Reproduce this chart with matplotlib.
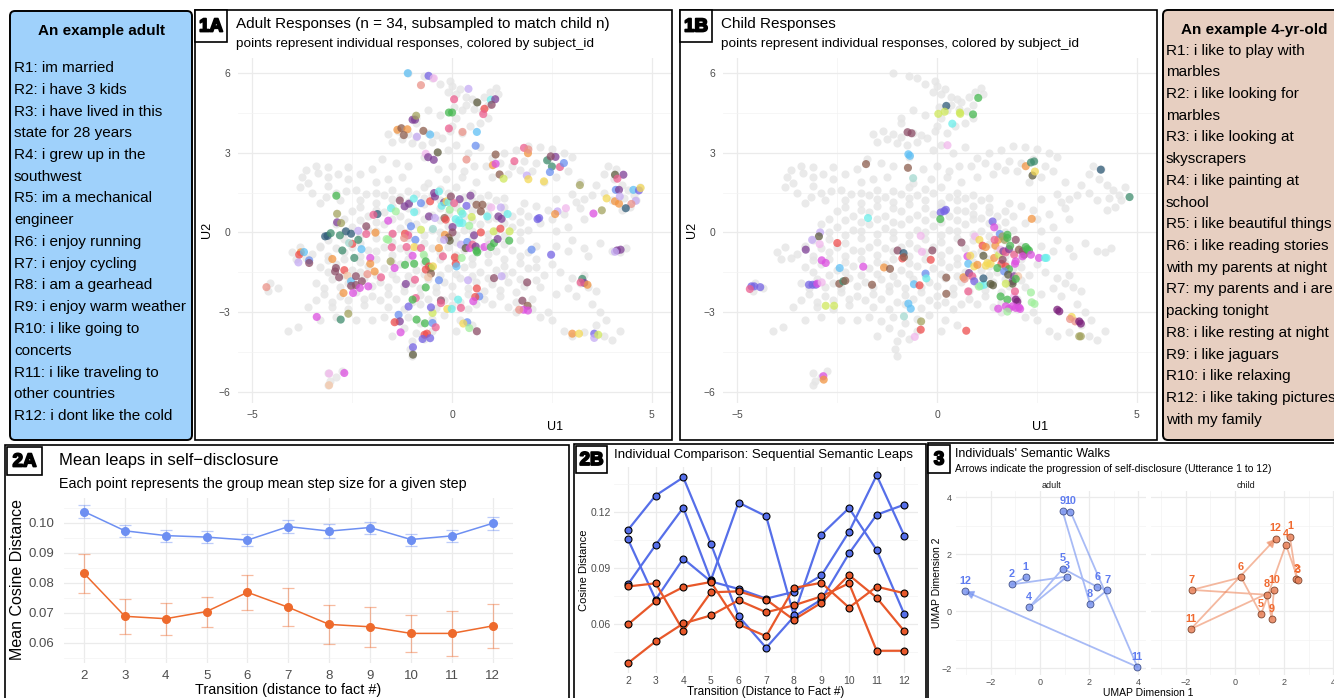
import matplotlib
matplotlib.use("Agg")
import matplotlib.pyplot as plt
import matplotlib.patheffects as pe
from matplotlib.patches import FancyBboxPatch
from matplotlib.transforms import IdentityTransform

plt.rcParams['font.family'] = ['Liberation Sans', 'DejaVu Sans']

# ---------------- data ----------------
adult_lines = ["R1: im married", "R2: i have 3 kids", "R3: i have lived in this",
               "state for 28 years", "R4: i grew up in the", "southwest",
               "R5: im a mechanical", "engineer", "R6: i enjoy running",
               "R7: i enjoy cycling", "R8: i am a gearhead", "R9: i enjoy warm weather",
               "R10: i like going to", "concerts", "R11: i like traveling to",
               "other countries", "R12: i dont like the cold"]
child_lines = ["R1: i like to play with", "marbles", "R2: i like looking for", "marbles",
               "R3: i like looking at", "skyscrapers", "R4: i like painting at", "school",
               "R5: i like beautiful things", "R6: i like reading stories",
               "with my parents at night", "R7: my parents and i are", "packing tonight",
               "R8: i like resting at night", "R9: i like jaguars", "R10: i like relaxing",
               "R12: i like taking pictures", "with my family"]

# full UMAP cloud (grey background, same in 1A and 1B)
background_pts = [
    (-1.1, 6.0), (-0.7, 5.9), (-0.5, 5.8), (-0.3, 5.6), (-0.05, 5.7), (0.0, 5.5), (-0.1, 5.3), (0.1, 5.2),
    (0.2, 5.4), (0.35, 5.1), (0.5, 5.0), (0.6, 4.9), (0.8, 5.1), (0.95, 5.3), (1.1, 5.45), (1.15, 5.2),
    (0.9, 4.8), (0.75, 4.55), (0.55, 4.65), (0.35, 4.8), (0.25, 4.6), (0.05, 4.7), (0.1, 4.3), (0.0, 4.0),
    (-0.05, 3.8), (0.25, 3.75), (0.45, 4.0), (0.7, 4.1), (0.9, 4.3), (-0.3, 4.4), (-0.6, 4.6), (-0.9, 4.3),
    (-0.9, 4.1), (-1.35, 3.8), (-1.6, 3.7), (-1.1, 3.7), (-0.9, 3.6), (-0.6, 3.75), (-0.4, 3.65),
    (-1.25, 3.5), (-1.0, 3.35), (-0.5, 3.4), (-0.25, 3.55), (-1.5, 3.4), (-0.75, 3.3),
    (-0.1, 3.1), (0.1, 3.3), (0.4, 3.0), (0.7, 3.2), (-1.75, 2.75), (-1.4, 2.6), (-1.1, 2.5), (-0.7, 2.85),
    (-0.35, 2.4), (0.0, 2.5), (0.3, 2.3), (0.55, 2.5), (0.85, 2.5), (-1.25, 2.1), (-0.6, 1.85),
    (-0.15, 2.0), (0.25, 2.1), (-2.0, 2.4), (-2.3, 2.2), (-2.6, 2.45), (-1.9, 1.9), (-1.6, 2.0),
    (0.6, 1.9), (1.0, 2.1),
    (-3.75, 2.1), (-3.6, 1.85), (-3.35, 2.25), (-3.1, 2.1), (-3.1, 1.75), (-3.5, 1.5), (-3.15, 1.35),
    (-2.9, 1.5), (-2.65, 1.55), (-2.4, 1.6), (-2.15, 1.45), (-3.65, 2.35), (-3.4, 2.5), (-3.1, 2.45),
    (-2.85, 2.2), (-2.6, 2.0), (-3.8, 1.7), (-3.3, 1.1), (-2.8, 1.2),
    (1.0, 2.8), (1.3, 3.0), (1.6, 3.1), (1.9, 3.25), (2.2, 3.2), (2.5, 3.15), (2.8, 3.0), (3.0, 2.85),
    (1.2, 2.6), (1.5, 2.5), (1.8, 2.7), (2.1, 2.6), (2.4, 2.75), (2.7, 2.5), (1.4, 2.2), (1.7, 2.35),
    (2.0, 2.3), (2.9, 2.3), (2.6, 2.1), (3.2, 1.9), (2.3, 1.9),
    (3.6, 1.8), (3.8, 2.2), (3.9, 2.5), (4.05, 2.0), (4.1, 2.4), (4.25, 1.8), (4.4, 1.6), (4.55, 1.4),
    (4.7, 1.7), (4.6, 1.2), (4.45, 0.95), (4.25, 0.85), (4.0, 1.2), (3.8, 1.5), (3.5, 1.4), (3.3, 1.25),
    (3.1, 1.15), (4.3, 1.3),
    (1.8, 1.1), (2.1, 1.0), (2.4, 0.85), (2.8, 0.7), (3.2, 0.9), (2.6, 1.25), (3.0, 1.45), (2.2, 0.35),
    (2.6, 0.05), (3.0, -0.3), (1.9, 0.6), (2.5, 0.5), (3.3, 0.5), (2.9, 0.2),
    (4.2, -0.75), (4.35, -0.6), (3.7, -0.4), (3.4, -0.9), (2.9, -0.7), (2.6, -0.5), (3.3, -0.6), (4.0, -0.7),
    (-1.9, 1.5), (-1.5, 1.6), (-1.1, 1.55), (-0.7, 1.7), (-0.3, 1.65), (0.1, 1.7), (0.5, 1.5), (0.9, 1.4),
    (1.3, 1.3), (-2.3, 1.2), (-1.9, 1.1), (-1.5, 1.25), (-1.1, 1.15), (-0.7, 1.3), (-0.3, 1.2), (0.1, 1.1),
    (0.5, 1.2), (0.9, 1.0), (1.3, 0.95), (1.7, 0.8),
    (-2.5, 0.8), (-2.1, 0.6), (-1.7, 0.75), (-1.3, 0.6), (-0.9, 0.8), (-0.5, 0.65), (-0.1, 0.7), (0.3, 0.6),
    (0.7, 0.8), (1.1, 0.55), (1.5, 0.6),
    (-2.9, 0.3), (-2.5, 0.2), (-2.1, 0.1), (-1.7, 0.3), (-1.3, 0.15), (-0.9, 0.3), (-0.5, 0.1), (-0.1, 0.25),
    (0.3, 0.1), (0.7, 0.3), (1.1, 0.05), (1.5, 0.2), (1.9, 0.1),
    (-3.1, -0.3), (-2.7, -0.25), (-2.3, -0.4), (-1.9, -0.2), (-1.5, -0.35), (-1.1, -0.2), (-0.7, -0.4),
    (-0.3, -0.25), (0.1, -0.35), (0.5, -0.2), (0.9, -0.3), (1.3, -0.45), (1.7, -0.3), (2.1, -0.5),
    (-3.5, -0.8), (-3.1, -0.9), (-2.7, -0.75), (-2.3, -0.9), (-1.9, -0.7), (-1.5, -0.85), (-1.1, -0.7),
    (-0.7, -0.9), (-0.3, -0.75), (0.1, -0.85), (0.5, -0.95), (0.9, -0.8), (1.3, -1.0), (1.7, -0.9),
    (2.1, -1.0), (2.5, -1.2),
    (-3.9, -1.0), (-3.3, -1.3), (-2.9, -1.2), (-2.5, -1.4), (-2.1, -1.25), (-1.7, -1.35), (-1.3, -1.2),
    (-0.9, -1.4), (-0.5, -1.25), (-0.1, -1.35), (0.3, -1.3), (0.7, -1.5), (1.1, -1.4), (1.5, -1.5),
    (1.9, -1.35), (2.3, -1.6),
    (-3.4, -1.9), (-3.0, -1.75), (-2.6, -1.9), (-2.2, -1.7), (-1.8, -1.85), (-1.4, -1.75), (-1.0, -1.9),
    (-0.6, -1.75), (-0.2, -1.85), (0.2, -1.7), (0.6, -1.85), (1.0, -1.95), (1.4, -1.85), (1.8, -2.0),
    (2.2, -2.05),
    (-3.2, -2.3), (-2.8, -2.4), (-2.4, -2.25), (-2.0, -2.4), (-1.6, -2.3), (-1.2, -2.2), (-0.8, -2.35),
    (-0.4, -2.25), (0.0, -2.4), (0.4, -2.3), (0.8, -2.5), (1.2, -2.4), (1.6, -2.6), (2.0, -2.5),
    (-3.6, -2.8), (-3.0, -2.8), (-2.6, -2.9), (-2.2, -2.75), (-1.6, -2.8), (-1.2, -2.9), (-0.8, -2.7),
    (-0.4, -2.85), (0.0, -2.75), (0.4, -2.9), (1.6, -3.0), (2.0, -2.9), (2.4, -3.0),
    (-1.7, -3.2), (-1.4, -3.35), (-1.1, -3.2), (-0.8, -3.4), (-0.5, -3.25), (-0.2, -3.1), (0.2, -3.3),
    (0.5, -3.5), (-1.2, -3.6), (-0.9, -3.8), (-1.0, -4.1), (-1.05, -4.4), (-1.0, -4.65), (-0.7, -4.0),
    (-0.5, -3.7), (-1.5, -3.9), (-2.0, -3.3), (-2.4, -3.3), (-2.9, -3.2), (-3.3, -3.3), (0.1, -3.7),
    (-4.1, -3.7), (-3.85, -3.55), (-4.55, -1.9), (-4.35, -2.1), (-4.6, -2.2), (-3.8, -0.55),
    (-3.65, -0.95), (-4.0, -0.75), (-3.3, -0.55),
    (-3.1, -5.3), (-3.05, -5.6), (-2.9, -5.45), (-3.1, -5.75), (-2.75, -5.2),
    (2.7, -1.5), (3.0, -1.7), (3.2, -1.9), (3.4, -2.05), (3.3, -1.6), (3.6, -2.2), (3.1, -2.4),
    (3.5, -2.7), (3.7, -3.0), (3.85, -3.3), (3.6, -3.5), (3.3, -3.75), (3.8, -3.9), (4.2, -3.7),
    (4.0, -4.05), (2.8, -3.7), (3.0, -3.9), (2.2, -3.2), (2.5, -3.3), (2.6, -2.3), (2.9, -2.1),
    (-1.7, 1.4), (-1.3, 1.35), (-0.9, 1.45), (-0.5, 1.4), (-0.1, 1.5), (0.3, 1.35), (0.7, 1.3), (1.1, 1.2),
    (-2.3, 0.95), (-1.9, 0.85), (-1.5, 1.0), (-1.1, 0.9), (-0.7, 1.05), (-0.3, 0.9), (0.1, 0.95),
    (0.5, 0.85), (0.9, 0.7), (1.3, 0.75),
    (-2.7, 0.5), (-2.3, 0.45), (-1.9, 0.4), (-1.5, 0.5), (-1.1, 0.4), (-0.7, 0.5), (-0.3, 0.45), (0.1, 0.4),
    (0.5, 0.45), (0.9, 0.5), (1.3, 0.35), (1.7, 0.4),
    (-2.7, 0.0), (-2.3, -0.1), (-1.9, 0.05), (-1.5, -0.05), (-1.1, 0.0), (-0.7, -0.1), (-0.3, 0.0),
    (0.1, -0.1), (0.5, 0.05), (0.9, -0.05), (1.3, -0.15), (1.7, 0.0),
    (-3.3, -0.5), (-2.9, -0.6), (-2.5, -0.55), (-2.1, -0.65), (-1.7, -0.55), (-1.3, -0.6), (-0.9, -0.55),
    (-0.5, -0.6), (-0.1, -0.55), (0.3, -0.65), (0.7, -0.6), (1.1, -0.7), (1.5, -0.65), (1.9, -0.75),
    (-3.1, -1.05), (-2.7, -1.0), (-2.3, -1.1), (-1.9, -1.0), (-1.5, -1.1), (-1.1, -1.0), (-0.7, -1.15),
    (-0.3, -1.0), (0.1, -1.1), (0.5, -1.2), (0.9, -1.1), (1.3, -1.25), (1.7, -1.15), (2.1, -1.3),
    (-3.1, -1.5), (-2.7, -1.6), (-2.3, -1.5), (-1.9, -1.6), (-1.5, -1.55), (-1.1, -1.65), (-0.7, -1.55),
    (-0.3, -1.6), (0.1, -1.55), (0.5, -1.65), (0.9, -1.7), (1.3, -1.6), (1.7, -1.75), (2.1, -1.8),
    (-3.2, -2.1), (-2.8, -2.05), (-2.4, -2.1), (-2.0, -2.0), (-1.6, -2.05), (-1.2, -2.0), (-0.8, -2.1),
    (-0.4, -2.05), (0.0, -2.0), (0.4, -2.1), (0.8, -2.2), (1.2, -2.15), (1.6, -2.25),
    (-3.4, -2.55), (-3.0, -2.6), (-2.6, -2.55), (-2.2, -2.5), (-1.8, -2.55), (-1.4, -2.5), (-1.0, -2.6),
    (-0.6, -2.5), (-0.2, -2.55), (0.2, -2.6), (0.6, -2.7), (1.0, -2.7), (1.4, -2.8),
]

# coloured responses: (U1, U2, subject colour group)
adult_pts = [
    (-1.11, 5.99, 'sk'), (-0.59, 5.89, 'v'), (-0.46, 5.80, 'pl'), (-0.78, 5.54, 'sa'), (0.41, 5.40, 'la'),
    (0.05, 5.01, 'pk'), (0.63, 4.89, 'od'), (0.97, 4.99, 'c'), (1.08, 5.01, 'pu'), (0.99, 4.80, 'bp'),
    (0.81, 4.65, 'r'), (0.78, 4.45, 'pk'), (-0.08, 4.51, 'g'), (0.0, 4.51, 'g'), (-0.99, 4.24, 'pu'),
    (-0.93, 4.24, 'pu'), (-0.90, 4.39, 'ol'),
    (-1.37, 3.86, 'o'), (-1.27, 3.92, 'br'), (-1.12, 3.88, 'o'), (-1.21, 3.66, 'br'), (-0.88, 3.60, 'la'),
    (-0.72, 3.82, 'br'), (-0.55, 3.68, 'sk'), (-0.08, 3.91, 'pk'), (0.26, 3.78, 'sa'), (0.62, 3.78, 'sk'),
    (0.59, 3.26, 'b'), (-0.36, 3.01, 'od'), (-0.66, 2.96, 'pl'), (-0.60, 2.83, 'pu'), (-0.46, 2.73, 'pu'),
    (0.36, 2.74, 'sa'), (1.09, 2.93, 'br'), (1.02, 2.53, 'o'), (1.09, 2.58, 'm'), (1.19, 2.18, 'br'),
    (1.29, 2.02, 'yg'), (1.56, 2.68, 'pk'), (1.80, 3.18, 'pk'), (1.90, 2.98, 'o'), (1.91, 3.12, 'sa'),
    (1.87, 2.14, 'la'), (1.91, 2.0, 'y'), (2.30, 1.92, 'y'),
    (2.38, 2.71, 't'), (2.59, 2.84, 'pu'), (2.47, 2.86, 'bp'), (2.50, 2.48, 't'), (2.45, 2.27, 'b'),
    (2.70, 2.46, 'pk'), (2.80, 2.61, 'b'), (3.20, 1.78, 'ol'), (4.08, 2.17, 'od'), (4.29, 2.17, 'pu'),
    (4.14, 2.02, 'pk'), (4.10, 1.60, 'b'), (4.18, 1.60, 'pu'), (4.54, 1.60, 'sk'), (4.68, 1.58, 'v'),
    (4.72, 1.67, 'y'), (4.60, 1.19, 'la'), (3.87, 1.28, 'y'), (4.08, 1.17, 'o'), (4.18, 1.08, 'o'),
    (4.20, 1.35, 'la'), (4.49, 1.07, 'sa'), (4.35, 0.91, 'td'), (3.75, 0.83, 'ol'), (3.54, 0.71, 'm'),
    (2.85, 0.91, 'pl'), (2.64, 0.79, 'la'), (2.58, 0.69, 'o'), (2.18, 0.54, 'v'), (2.14, 0.50, 'v'),
    (1.99, -0.65, 'b'), (2.48, -0.84, 'v'), (4.13, -0.68, 'pu'), (4.22, -0.65, 'pu'), (4.08, -0.73, 'la'),
    (3.26, -1.75, 't'), (3.31, -1.90, 'pu'), (3.39, -1.97, 'o'), (3.22, -1.88, 'pk'),
    (1.88, -1.88, 'bp'), (1.76, -2.57, 'bp'), (1.89, -2.76, 'br'), (1.79, -2.91, 'm'), (1.90, -2.94, 'm'),
    (1.68, -2.91, 'sa'), (3.01, -3.81, 'o'), (3.18, -3.81, 'y'), (3.56, -3.81, 'v'), (3.56, -3.97, 'la'),
    (3.66, -3.85, 'yg'), (1.05, -1.72, 'bp'), (1.24, -1.65, 'la'), (0.62, -2.11, 'r'), (0.68, -2.41, 'b'),
    (0.58, -2.43, 'r'), (0.53, -2.59, 'm'), (0.40, -1.80, 'la'), (0.15, -2.53, 'c'), (0.22, -2.84, 'pk'),
    (-0.12, -2.88, 'y'), (-0.01, -2.88, 'c'), (0.38, -3.38, 'b'), (0.28, -3.43, 'y'), (0.43, -3.60, 'lg'),
    (0.62, -3.72, 'bp'), (-0.49, -3.03, 'yg'), (-0.53, -2.82, 'v'), (-0.28, -2.56, 'bp'), (-0.28, -2.66, 'pk'),
    (-0.33, -1.80, 'b'), (-0.66, -2.07, 'g'), (-0.91, -2.47, 'pk'), (-0.99, -2.53, 'g'), (-1.09, -2.79, 'v'),
    (-0.93, -1.78, 'pk'), (-1.16, -1.94, 'pu'), (-1.34, -3.10, 'b'), (-1.31, -3.35, 'pu'), (-1.44, -3.38, 'r'),
    (-0.89, -3.28, 'g'), (-0.68, -3.42, 'g'), (-0.49, -3.41, 'b'), (-0.41, -3.57, 'pk'), (-1.29, -3.76, 'm'),
    (-0.69, -3.85, 'r'), (-0.63, -3.81, 'r'), (-0.74, -4.01, 'v'), (-0.55, -3.98, 'v'), (-0.98, -4.32, 'v'),
    (-0.98, -4.60, 'od'), (-3.39, -3.18, 'm'), (-2.79, -3.28, 't'), (-2.60, -3.06, 'ol'),
    (-3.08, -5.31, 'pl'), (-2.70, -5.29, 'm'), (-3.08, -5.75, 'pe'), (-4.65, -2.06, 'sa'),
    (-3.79, -0.75, 'o'), (-3.83, -0.84, 'r'), (-3.71, -0.74, 'sk'), (-3.85, -1.13, 'la'), (-3.58, -1.05, 'b'),
    (-3.58, -1.15, 'bp'), (-3.18, -0.15, 'td'), (-3.12, -0.13, 'td'), (-3.04, -0.03, 't'), (-3.00, -1.0, 'o'),
    (-2.88, 0.38, 'pu'), (-2.78, 0.35, 'ol'), (-2.88, 0.70, 'ol'), (-2.90, 1.38, 'g'),
    (-2.66, 0.04, 'td'), (-2.53, -0.05, 'td'), (-2.81, -0.11, 't'), (-2.75, -0.68, 't'), (-2.50, -0.43, 'r'),
    (-2.58, -0.40, 'tl'), (-2.35, -0.28, 't'), (-2.35, 0.06, 'la'), (-2.27, -0.63, 'sk'), (-2.15, 0.23, 'bp'),
    (-2.15, -0.06, 'pk'), (-1.92, -0.01, 'o'), (-1.87, 0.69, 'td'), (-1.97, 0.66, 'pk'), (-2.45, -0.96, 't'),
    (-2.91, -1.34, 'bp'), (-2.93, -1.47, 'bp'), (-2.83, -1.69, 'bp'), (-2.70, -1.42, 'r'), (-2.62, -1.63, 'pe'),
    (-2.53, -1.84, 'sk'), (-2.41, -1.65, 'bp'), (-2.53, -2.01, 'bp'), (-2.41, -1.98, 'bp'), (-2.26, -1.84, 'bp'),
    (-2.48, -2.28, 'm'), (-2.72, -2.28, 'o'), (-2.31, -2.09, 'm'), (-2.10, -2.03, 'm'),
    (-2.05, -0.96, 'm'), (-2.05, -1.18, 'o'), (-2.12, -1.57, 'sa'), (-1.94, -1.47, 'o'), (-1.78, -1.69, 'pk'),
    (-1.60, 0.44, 'm'), (-1.53, 0.91, 'c'), (-1.41, 0.79, 'lg'), (-1.49, -0.05, 'pk'), (-1.51, -0.56, 'pk'),
    (-1.64, -0.25, 'lg'), (-1.60, -0.28, 'lg'), (-1.54, -1.09, 'ol'), (-1.44, -1.34, 'm'),
    (-1.31, 1.20, 'bp'), (-1.19, 0.98, 'pu'), (-1.08, 1.08, 'pu'), (-0.96, 1.27, 'c'), (-0.95, 0.76, 'c'),
    (-0.78, 1.10, 'b'), (-1.03, 0.23, 'b'), (-1.18, -0.05, 'r'), (-1.10, -0.11, 'pk'), (-1.20, -0.21, 'sa'),
    (-0.92, -0.28, 'b'), (-0.95, -0.55, 'y'), (-1.14, -0.55, 'pk'), (-0.99, -0.88, 'm'), (-1.18, -1.22, 'g'),
    (-0.95, -1.18, 'g'), (-0.78, -0.59, 'pk'), (-0.78, 0.10, 'yg'), (-0.71, -0.84, 'lg'), (-0.66, -1.09, 'g'),
    (-0.58, -1.28, 'r'), (-0.53, -1.34, 'g'), (-0.48, -1.28, 'y'), (-0.66, -1.40, 'r'), (-0.53, -1.55, 'br'),
    (-0.60, -1.69, 'pe'), (-0.55, 1.17, 'r'), (-0.45, 1.48, 'pu'), (-0.43, 1.35, 'pu'), (-0.33, 1.54, 'c'),
    (-0.20, 1.13, 'pu'), (-0.26, 1.00, 'c'), (-0.14, 1.17, 'y'), (-0.09, 1.13, 'c'), (-0.03, 1.35, 'bp'),
    (0.19, 1.25, 'pu'), (0.05, 1.10, 'pk'), (0.46, 1.38, 'pu'), (0.36, 1.00, 'v'), (-0.06, 0.85, 'lg'),
    (0.22, 0.79, 'lg'), (0.26, 0.70, 'c'), (0.18, 0.45, 'c'), (0.09, 0.50, 'c'), (0.26, 0.35, 'c'),
    (0.18, 0.35, 'c'), (0.49, 0.58, 'yg'), (0.61, 1.04, 'br'), (0.76, 1.04, 'br'), (0.72, 0.79, 'br'),
    (0.43, 0.25, 'lg'), (0.88, 0.60, 'c'), (0.98, 0.94, 'pl'), (1.22, 0.94, 'la'), (1.16, 0.60, 'pu'),
    (1.24, 0.51, 'pu'), (1.39, 0.69, 'c'), (-0.58, 0.60, 'pu'), (-0.43, 0.54, 'la'), (-0.19, 0.54, 'br'),
    (-0.16, 0.48, 'r'), (-0.48, 0.13, 'tl'), (0.01, 0.20, 'pu'), (0.01, 0.0, 'bp'), (-0.18, -0.09, 'o'),
    (-0.09, -0.19, 'br'), (-0.06, -0.31, 'od'), (-0.33, -0.59, 'o'), (-0.20, -0.28, 'la'), (0.22, -0.46, 'la'),
    (0.38, -0.36, 'b'), (0.34, -0.59, 'od'), (0.44, -0.59, 'm'), (0.51, -0.46, 'pk'), (0.59, -0.53, 'pu'),
    (0.63, -0.75, 'g'), (0.61, -0.69, 'g'), (0.55, -0.11, 'pu'), (0.72, 0.0, 'r'), (0.81, -0.55, 'm'),
    (0.93, -0.46, 'pl'), (0.97, -0.55, 'g'), (1.05, -0.40, 'g'), (1.04, 0.04, 'yg'), (1.14, -0.25, 'pu'),
    (1.21, 0.14, 'r'), (1.44, 0.04, 'yg'), (1.43, -0.31, 'g'), (0.07, -0.94, 'r'), (0.09, -1.18, 'r'),
    (0.11, -1.28, 'sk'), (0.24, -0.96, 'lg'), (-0.23, -0.90, 'pk'),
]

child_pts = [
    (0.23, 4.76, 'td'), (0.03, 4.46, 'yg'), (0.19, 4.54, 'yg'), (0.57, 4.51, 'yg'), (0.58, 4.46, 'yg'),
    (1.03, 5.06, 'g'), (0.90, 4.44, 'g'), (0.38, 4.09, 'c'), (-0.74, 3.77, 'bp'), (-0.64, 3.73, 'bp'),
    (0.26, 3.28, 'pl'), (-0.72, 2.94, 'sk'), (-0.68, 2.88, 'sk'), (-0.73, 2.43, 'br'), (-0.60, 2.04, 'tl'),
    (-1.78, 2.57, 'br'), (2.22, 2.49, 'o'), (2.35, 2.63, 't'), (2.43, 2.67, 't'), (2.39, 2.14, 'od'),
    (2.45, 2.29, 'y'), (4.10, 2.36, 'td'), (4.82, 1.33, 't'), (2.37, 0.51, 'o'),
    (0.09, 0.75, 'v'), (0.18, 0.80, 'v'), (0.22, 0.85, 'v'), (0.08, 0.50, 'g'), (-1.73, 0.54, 'c'),
    (1.39, 0.41, 'v'), (1.43, 0.19, 'm'), (-2.93, 0.0, 'la'), (-2.96, -0.15, 'od'), (-3.13, -0.28, 'la'),
    (-2.94, -0.44, 'pl'), (-3.29, -0.65, 'pu'), (-2.50, -0.40, 'r'), (-2.89, -1.05, 'm'), (-2.79, -1.15, 'm'),
    (-2.44, -1.34, 'sk'), (-1.85, -1.29, 'm'), (-4.65, -2.03, 'v'), (-4.58, -2.03, 'v'), (-4.43, -2.06, 'v'),
    (-4.69, -2.13, 'pk'), (-3.21, -1.97, 'v'), (-3.12, -1.97, 'v'), (-3.04, -1.97, 'v'), (-3.0, -1.93, 'm'),
    (-2.89, -1.88, 'pl'), (-2.45, -1.93, 'br'), (-2.35, -1.84, 't'), (-2.30, -1.82, 'br'), (-1.63, -1.97, 'br'),
    (-2.79, -2.76, 'yg'), (-2.58, -2.76, 'yg'), (-2.85, -5.41, 'm'), (-2.84, -5.54, 'o'),
    (-1.33, -1.32, 'o'), (-1.18, -1.37, 'br'), (-0.99, -0.68, 'bp'), (-0.84, -0.78, 'td'), (-0.87, -0.98, 'r'),
    (-0.83, -0.93, 'br'), (-0.41, -0.13, 'pl'), (-0.38, -0.73, 'pl'), (-0.12, -0.68, 'bp'), (-0.16, -1.03, 'r'),
    (-0.29, -1.55, 'b'), (-0.27, -1.73, 'c'), (-0.58, -1.95, 'sk'), (-0.44, -1.99, 'r'),
    (-0.72, -2.68, 'sk'), (-0.66, -2.87, 'sk'), (-0.83, -3.16, 'tl'), (-0.40, -3.35, 'ol'), (-0.41, -3.66, 'r'),
    (-0.56, -3.93, 'pl'), (0.23, -1.70, 'br'), (0.23, -2.31, 'br'), (0.73, -3.70, 'r'), (0.78, -2.22, 'pk'),
    (0.61, -0.38, 'bp'), (0.95, -0.15, 'pl'), (1.06, -0.28, 'y'), (1.14, -0.50, 'r'), (1.22, -0.55, 'o'),
    (0.76, -0.90, 'm'), (0.83, -0.88, 'y'), (0.78, -1.18, 'sk'), (0.93, -1.28, 'y'), (1.01, -1.22, 'o'),
    (0.66, -1.69, 'o'), (0.69, -1.75, 'sa'), (0.80, -1.53, 'pu'), (0.88, -1.65, 'pk'), (0.93, -1.84, 'v'),
    (1.09, -2.01, 'c'), (1.18, -1.97, 'c'), (1.05, -2.04, 'lg'), (1.16, -1.73, 'td'), (1.34, -1.94, 'od'),
    (1.40, -1.99, 'od'), (1.16, -0.88, 'od'), (1.26, -1.15, 'y'), (1.34, -1.18, 'y'), (1.22, -1.25, 'y'),
    (1.43, -0.96, 'o'), (1.55, -0.84, 'yg'), (1.61, -1.18, 'r'), (1.51, -1.34, 'g'), (1.46, -0.50, 'o'),
    (1.53, -0.28, 'o'), (1.57, -0.06, 'b'), (1.64, -0.15, 'ol'), (1.69, -0.28, 'ol'), (1.76, -0.09, 'g'),
    (1.76, -0.21, 'g'), (1.44, -0.28, 'pk'), (1.59, -0.65, 'pl'), (1.66, -0.71, 'pu'), (1.72, -0.75, 'pk'),
    (1.64, -1.03, 'bp'), (1.80, -0.63, 'pu'), (1.83, -0.50, 'g'), (1.93, -0.84, 'pk'), (1.97, -1.09, 'm'),
    (1.95, -1.18, 'm'), (1.72, -1.28, 'r'), (1.80, -1.38, 'g'), (1.68, -1.47, 'b'), (1.78, -1.59, 'od'),
    (1.93, -1.65, 'pu'), (1.89, -1.84, 'pu'), (1.89, -1.93, 'od'), (2.03, -1.65, 'pe'), (1.97, -1.75, 'g'),
    (1.72, -1.93, 'yg'), (1.59, -2.41, 'g'), (1.93, -2.41, 'pl'), (1.95, -2.22, 'pk'), (1.97, -2.53, 'pd'),
    (2.01, -2.61, 'pd'), (1.76, -2.53, 'g'), (1.72, -2.78, 'm'), (1.80, -2.87, 'm'), (1.89, -2.78, 'm'),
    (1.97, -2.84, 'm'), (2.05, -2.82, 'm'), (2.08, -2.88, 'm'), (1.53, -2.87, 'm'), (1.76, -2.98, 'lg'),
    (1.97, -0.28, 'bp'), (2.05, -0.65, 'br'), (2.14, -0.71, 'bp'), (2.18, -0.84, 'bp'), (2.22, -0.55, 'g'),
    (2.26, -0.63, 'g'), (2.30, -0.68, 'g'), (2.14, -0.90, 'm'), (2.35, -0.84, 'm'), (2.55, -0.96, 'm'),
    (2.70, -0.96, 'c'), (2.74, -0.96, 'c'), (2.35, -2.26, 'lg'), (2.37, -2.63, 'lg'), (2.44, -2.69, 'lg'),
    (3.01, -2.91, 'pd'), (3.06, -2.97, 'pd'), (3.37, -3.18, 'y'), (3.33, -3.26, 'sa'), (3.46, -3.35, 'sa'),
    (3.56, -3.35, 'pd'), (3.60, -3.43, 'pd'), (3.56, -3.91, 'ol'), (3.60, -3.91, 'ol'),
]

subject_colors = {
    'r': '#ee4d4d', 'pk': '#ec5f8f', 'm': '#dc4fe0', 'pu': '#7e3f96', 'v': '#7563e3', 'b': '#6a8ff0',
    'sk': '#5fc0f5', 'c': '#6beeea', 'td': '#2f5b78', 't': '#3f8d6e', 'g': '#46b850', 'lg': '#a0ee9c',
    'yg': '#cfe85c', 'y': '#f4d957', 'o': '#f29542', 'sa': '#ea9288', 'br': '#8c5d4e', 'ol': '#a3a35f',
    'od': '#5d5b3e', 'la': '#c5abf3', 'pl': '#f1b7ec', 'pe': '#f4c7a8', 'bp': '#8b4c66', 'tl': '#a3d9d0',
    'pd': '#7a1f7a',
}

# 2A: group means
steps = [2, 3, 4, 5, 6, 7, 8, 9, 10, 11, 12]
adult_mean = [0.1037, 0.0973, 0.0957, 0.0952, 0.0942, 0.0987, 0.0972, 0.0984, 0.0944, 0.0956, 0.0998]
adult_se = [0.0022, 0.0021, 0.0020, 0.0021, 0.0021, 0.0022, 0.0023, 0.0020, 0.0020, 0.0021, 0.0022]
child_mean = [0.0831, 0.0688, 0.0680, 0.0704, 0.0768, 0.0718, 0.0661, 0.0653, 0.0631, 0.0631, 0.0656]
child_se = [0.0065, 0.0058, 0.0053, 0.0050, 0.0058, 0.0063, 0.0065, 0.0066, 0.0063, 0.0074, 0.0074]
mean_yticks = [0.06, 0.07, 0.08, 0.09, 0.10]
mean_yticklabels = ['0.06', '0.07', '0.08', '0.09', '0.10']

# 2B: individual sequences
adult_walks = [
    [0.1106, 0.129, 0.1387, 0.1031, 0.0644, 0.0475, 0.0641, 0.0733, 0.098, 0.1187, 0.1241],
    [0.0815, 0.1025, 0.1225, 0.0837, 0.1252, 0.1179, 0.065, 0.1081, 0.1223, 0.0998, 0.0655],
    [0.1055, 0.0733, 0.0952, 0.083, 0.079, 0.0738, 0.0774, 0.0862, 0.1096, 0.1398, 0.1075],
]
child_walks = [
    [0.0803, 0.082, 0.0566, 0.0772, 0.0777, 0.0733, 0.0625, 0.0716, 0.0864, 0.0743, 0.0564],
    [0.060, 0.0724, 0.080, 0.0827, 0.060, 0.0537, 0.0795, 0.0823, 0.069, 0.0802, 0.0767],
    [0.0393, 0.0509, 0.0605, 0.0648, 0.0729, 0.0665, 0.0702, 0.075, 0.082, 0.0459, 0.0459],
]
indiv_yticks = [0.06, 0.09, 0.12]
indiv_yticklabels = ['0.06', '0.09', '0.12']

# 3: semantic walks of the two example individuals
walk_adult_x = [-0.58, -1.15, 1.11, -0.43, 0.93, 2.34, 2.73, 2.04, 0.92, 1.24, 3.96, -3.05]
walk_adult_y = [1.19, 0.94, 1.22, 0.14, 1.50, 0.85, 0.74, 0.25, 3.51, 3.50, -1.95, 0.70]
walk_child_x = [2.24, 2.51, 2.58, 2.08, 1.07, 0.26, -1.74, 1.31, 1.50, 1.59, -1.78, 1.67]
walk_child_y = [2.62, 1.12, 1.10, 2.34, -0.11, 1.19, 0.75, 0.58, -0.27, 0.73, -0.62, 2.55]

# ---------------- layout helpers ----------------
W, H = 1334, 698
fig = plt.figure(figsize=(W / 100, H / 100), dpi=100)


def axes_px(left, top, right, bottom):
    return fig.add_axes([left / W, 1 - bottom / H, (right - left) / W, (bottom - top) / H])


def text_px(x, y, s, **kw):
    kw.setdefault('va', 'center')
    return fig.text(x / W, 1 - y / H, s, **kw)


def rect_px(left, top, right, bottom, fc='none', lw=1.2, rounding=0):
    style = 'round,pad=0,rounding_size=%d' % rounding if rounding else 'square,pad=0'
    p = FancyBboxPatch((left, H - bottom), right - left, bottom - top, boxstyle=style,
                       transform=IdentityTransform(), fc=fc, ec='black', lw=lw)
    fig.add_artist(p)


def panel_tag(left, top, right, bottom, s):
    rect_px(left, top, right, bottom, fc='white', lw=1.2)
    t = text_px((left + right) / 2, (top + bottom) / 2 + 1, s, ha='center',
                fontsize=13.5, fontweight='bold')
    t.set_path_effects([pe.withStroke(linewidth=1.3, foreground='black')])


def gg_minimal(ax, xt, yt, xminor, yminor, fs, xpad, ypad):
    ax.set_facecolor('none')
    for s in ax.spines.values():
        s.set_visible(False)
    ax.set_xticks(xt)
    ax.set_yticks(yt)
    ax.set_xticks(xminor, minor=True)
    ax.set_yticks(yminor, minor=True)
    ax.grid(True, which='major', color='#ebebeb', lw=0.9)
    ax.grid(True, which='minor', color='#f3f3f3', lw=0.5)
    ax.tick_params(which='both', length=0, labelsize=fs, labelcolor='#4d4d4d')
    ax.tick_params(axis='x', pad=xpad)
    ax.tick_params(axis='y', pad=ypad)
    ax.set_axisbelow(True)


# ---------------- text boxes ----------------
rect_px(10, 11, 192, 440, fc='#9fd1fb', lw=1.4, rounding=5)
text_px(101, 31, 'An example adult', ha='center', fontsize=11, fontweight='bold')
for i, line in enumerate(adult_lines):
    text_px(14, 68 + i * 21.75, line, fontsize=11)

rect_px(1163, 10, 1350, 440, fc='#e7cfc1', lw=1.4, rounding=5)
text_px(1254, 30, 'An example 4-yr-old', ha='center', fontsize=11, fontweight='bold')
for i, line in enumerate(child_lines):
    text_px(1166, 50.7 + i * 21.7, line, fontsize=11)

# ---------------- 1A / 1B ----------------
bg_u1 = [p[0] for p in background_pts]
bg_u2 = [p[1] for p in background_pts]


def umap_panel(x0, pts, title):
    ax = axes_px(x0 + 42.7, 58.3, x0 + 476.7, 403.3)
    gg_minimal(ax, [-5, 0, 5], [-6, -3, 0, 3, 6], [-2.5, 2.5], [-4.5, -1.5, 1.5, 4.5], 7.5, 4.5, 5.5)
    ax.scatter(bg_u1, bg_u2, s=34, c='#e5e5e5', alpha=0.8, lw=0, zorder=2)
    ax.scatter([p[0] for p in pts], [p[1] for p in pts], s=34,
               c=[subject_colors[p[2]] for p in pts], alpha=0.75, lw=0, zorder=3)
    ax.set_xlim(-5.37, 5.5)
    ax.set_ylim(-6.43, 6.55)
    rect_px(x0, 10, x0 + 477, 440, lw=1.2)
    panel_tag(x0, 10, x0 + 32, 42, '1A' if x0 < 400 else '1B')
    text_px(x0 + 40.7, 24, title, fontsize=11)
    text_px(x0 + 40.7, 44, 'points represent individual responses, colored by subject_id', fontsize=9.7)
    text_px(x0 + 11.7, 230, 'U2', rotation=90, ha='center', fontsize=9)
    text_px(x0 + 360, 426.7, 'U1', ha='center', fontsize=9)


umap_panel(195, adult_pts, 'Adult Responses (n = 34, subsampled to match child n)')
umap_panel(680, child_pts, 'Child Responses')

# ---------------- 2A ----------------
BLUE_A, ORANGE_A = '#6d8ff2', '#ee6a2c'
ax = axes_px(63.6, 497.5, 513.1, 662.8)
gg_minimal(ax, steps, mean_yticks, [], [0.055, 0.065, 0.075, 0.085, 0.095, 0.105], 9.5, 5, 7)
ax.set_yticklabels(mean_yticklabels)
for m, e, col in [(adult_mean, adult_se, BLUE_A), (child_mean, child_se, ORANGE_A)]:
    ax.errorbar(steps, m, yerr=e, fmt='none', ecolor=col, elinewidth=0.9, capsize=4.5,
                capthick=0.9, alpha=0.45, zorder=2)
    ax.plot(steps, m, color=col, lw=1.1, zorder=3)
    ax.plot(steps, m, 'o', color=col, ms=5.5, zorder=4)
ax.set_xlim(1.5, 12.5)
ax.set_ylim(0.0533, 0.1084)
rect_px(5, 445, 569, 705, lw=1.2)
panel_tag(7, 447, 42, 475, '2A')
text_px(59, 460, 'Mean leaps in self\u2212disclosure', fontsize=12)
text_px(59, 484, 'Each point represents the group mean step size for a given step', fontsize=10.3)
text_px(18, 580, 'Mean Cosine Distance', rotation=90, ha='center', fontsize=11.5)
text_px(288, 690, 'Transition (distance to fact #)', ha='center', fontsize=10.4)

# ---------------- 2B ----------------
BLUE_B, ORANGE_B = '#566fe9', '#e8582a'
ax = axes_px(614.2, 467.1, 918.1, 673.0)
gg_minimal(ax, steps, indiv_yticks, [], [0.045, 0.075, 0.105, 0.135], 7.5, 2.5, 2.5)
ax.set_yticklabels(indiv_yticklabels)
for walks, col in [(adult_walks, BLUE_B), (child_walks, ORANGE_B)]:
    for w in walks:
        ax.plot(steps, w, color=col, lw=1.6, zorder=3)
        ax.plot(steps, w, 'o', mfc=col, mec='black', mew=0.8, ms=5, zorder=4)
ax.set_xlim(1.5, 12.5)
ax.set_ylim(0.034, 0.1442)
rect_px(574, 444, 926, 705, lw=1.2)
panel_tag(576, 446, 607, 473, '2B')
text_px(614, 455, 'Individual Comparison: Sequential Semantic Leaps', fontsize=9.5)
text_px(584, 570, 'Cosine Distance', rotation=90, ha='center', fontsize=8)
text_px(766, 692, 'Transition (Distance to Fact #)', ha='center', fontsize=8.5)

# ---------------- 3 ----------------
walk_sets = [
    (956.3, walk_adult_x, walk_adult_y, '#6f8ef0', '#7d96ee', '#2f3f7a', '#5f7cf0', 'adult'),
    (1151.1, walk_child_x, walk_child_y, '#ee8a60', '#e8825a', '#6a3018', '#f06a30', 'child'),
]
for i, (left, wx, wy, lcol, pcol, ecol, tcol, name) in enumerate(walk_sets):
    ax = axes_px(left, 491.0, left + 189.4, 675.4)
    gg_minimal(ax, [-2, 0, 2, 4], [-2, 0, 2, 4], [-3, -1, 1, 3], [-1, 1, 3], 6.5, 2, 3.5)
    if i == 1:
        ax.set_yticklabels([])
    ax.plot(wx[:-1], wy[:-1], color=lcol, lw=1.3, alpha=0.6, zorder=2)
    ax.annotate('', xy=(wx[-1], wy[-1]), xytext=(wx[-2], wy[-2]),
                arrowprops=dict(arrowstyle='-|>', color=lcol, lw=1.3, alpha=0.6,
                                mutation_scale=12, shrinkA=0, shrinkB=0), zorder=2)
    ax.plot(wx, wy, 'o', mfc=pcol, mec=ecol, mew=0.6, ms=5, alpha=0.85, zorder=3)
    for k in range(len(wx)):
        ax.text(wx[k], wy[k] + 0.36, str(k + 1), color=tcol, fontsize=7.8, fontweight='bold',
                ha='center', va='center', zorder=4)
    ax.set_xlim(-3.4, 4.3)
    ax.set_ylim(-2.25, 4.22)
    text_px(left + 94.7, 486, name, ha='center', fontsize=6.5, color='#1a1a1a')
rect_px(928, 443, 1345, 705, lw=1.2)
panel_tag(928, 445, 950, 473, '3')
text_px(955, 454, "Individuals' Semantic Walks", fontsize=9)
text_px(955, 469, 'Arrows indicate the progression of self-disclosure (Utterance 1 to 12)', fontsize=7.45)
text_px(937, 583, 'UMAP Dimension 2', rotation=90, ha='center', fontsize=7.5)
text_px(1148, 693, 'UMAP Dimension 1', ha='center', fontsize=7.5)

fig.savefig('out.png', dpi=100)
